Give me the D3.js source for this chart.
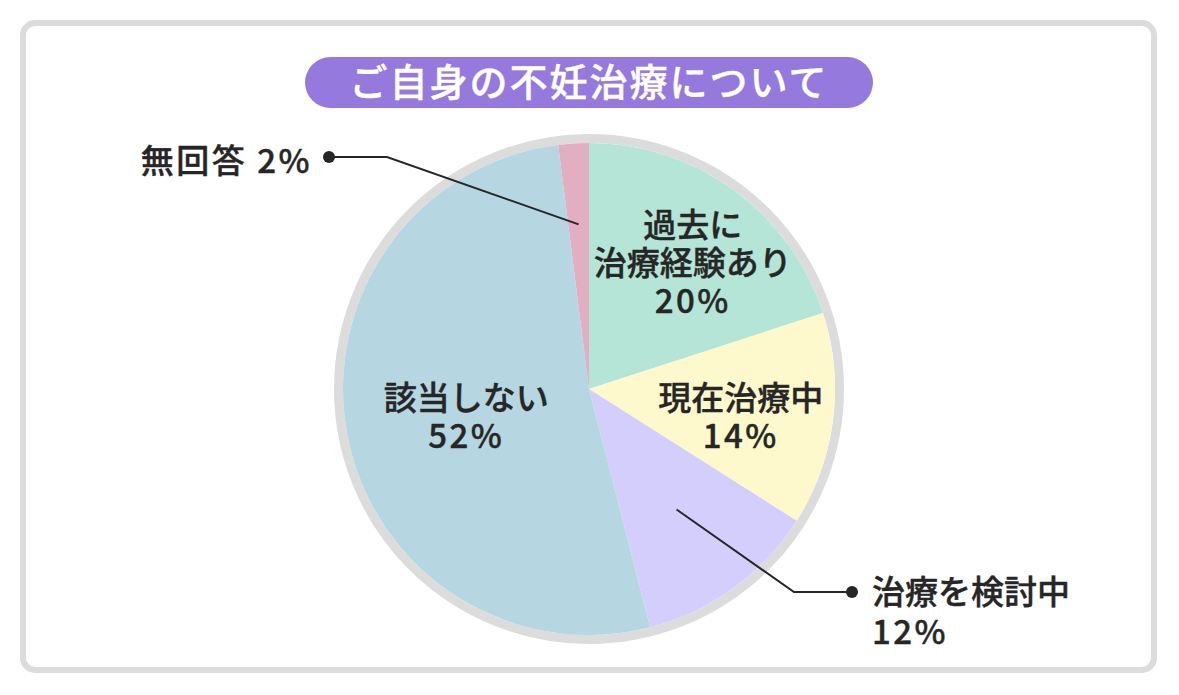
<!DOCTYPE html>
<html>
<head>
<meta charset="utf-8">
<script src="https://cdn.jsdelivr.net/npm/d3@7"></script>
<style>
  html, body { margin: 0; padding: 0; background: #fff; }
  svg { display: block; }
</style>
</head>
<body>
<script>
// survey result
const categories = ['過去に治療経験あり', '現在治療中', '治療を検討中', '該当しない', '無回答'];
const values = [20, 14, 12, 52, 2];
const labelLines = [
    ['過去に', '治療経験あり', '20%'],
    ['現在治療中', '14%'],
    ['治療を検討中', '12%'],
    ['該当しない', '52%'],
    ['無回答 2%']
];
const title = 'ご自身の不妊治療について';

const width = 1179;
const height = 695;
const cx = 589, cy = 389;
const radius = 246;
const ringWidth = 9;
const fontFamily = '"Noto Sans CJK JP", "Noto Sans", sans-serif';
const textColor = '#262626';

const color = d3.scaleOrdinal()
    .domain(categories)
    .range(['#b4e5d6', '#fef9cd', '#d3cefb', '#b6d7e1', '#e2aec1']);

// labels inside the slices: radius from centre + a little nudge
const insideLabels = {
    '過去に治療経験あり': { r: 163, dx: 8, dy: 6 },
    '現在治療中': { r: 155, dx: -2, dy: 9 },
    '該当しない': { r: 123, dx: -2, dy: 5 }
};
// call-out labels with a leader line
const callouts = {
    '無回答': { r: 165, dotX: 329, dotY: 157, elbow: 58, side: 'left' },
    '治療を検討中': { r: 149, dotX: 852, dotY: 592, elbow: -58, side: 'right' }
};

const svg = d3.select('body')
    .append('svg')
    .attr('width', width)
    .attr('height', height);

// frame
svg.append('rect')
    .attr('x', 23).attr('y', 23)
    .attr('width', 1131).attr('height', 647)
    .attr('rx', 12)
    .attr('fill', '#fff')
    .attr('stroke', '#dcdcdc')
    .attr('stroke-width', 6);

// title pill
svg.append('rect')
    .attr('x', 305).attr('y', 57)
    .attr('width', 568).attr('height', 51)
    .attr('rx', 25.5)
    .attr('fill', '#9579dc');
svg.append('text')
    .attr('x', cx).attr('y', 83)
    .attr('dy', '0.35em')
    .attr('text-anchor', 'middle')
    .style('font-family', fontFamily)
    .style('font-size', '38px')
    .style('font-weight', '500')
    .style('letter-spacing', '2px')
    .style('fill', '#fff')
    .style('stroke', '#fff')
    .style('stroke-width', '0.4px')
    .text(title);

const g = svg.append('g').attr('transform', `translate(${cx},${cy})`);

// grey ring
g.append('circle')
    .attr('r', radius + ringWidth / 2)
    .attr('fill', 'none')
    .attr('stroke', '#dcdcdc')
    .attr('stroke-width', ringWidth);

const pie = d3.pie().sort(null).value(d => d.value);
const arcs = pie(categories.map((c, i) => ({ name: c, value: values[i], lines: labelLines[i] })));
const arc = d3.arc().innerRadius(0).outerRadius(radius);

g.selectAll('.slice')
    .data(arcs)
    .enter()
    .append('path')
    .attr('class', 'slice')
    .attr('d', arc)
    .attr('fill', d => color(d.data.name));

function pointAt(d, r) {
    return d3.arc().innerRadius(r).outerRadius(r).centroid(d);
}

// one <text> per line, percent lines get a bit more spacing (wide digits in the original)
function writeLines(x, y, lines, lineHeight, anchor) {
    lines.forEach((t, i) => {
        g.append('text')
            .attr('x', x)
            .attr('y', y + (i - (lines.length - 1) / 2) * lineHeight)
            .attr('dy', '0.35em')
            .attr('text-anchor', anchor)
            .style('font-family', fontFamily)
            .style('font-size', '33px')
            .style('font-weight', '500')
            .style('letter-spacing', /%$/.test(t) ? '2.5px' : '0px')
            .style('fill', textColor)
            .style('stroke', textColor)
            .style('stroke-width', '0.4px')
            .text(t);
    });
}

// inside labels
arcs.filter(d => insideLabels[d.data.name]).forEach(d => {
    const o = insideLabels[d.data.name];
    const p = pointAt(d, o.r);
    writeLines(p[0] + o.dx, p[1] + o.dy, d.data.lines, 38, 'middle');
});

// call-outs
arcs.filter(d => callouts[d.data.name]).forEach(d => {
    const o = callouts[d.data.name];
    const p = pointAt(d, o.r);
    const dot = [o.dotX - cx, o.dotY - cy];
    const elbow = [dot[0] + o.elbow, dot[1]];
    g.append('path')
        .attr('d', d3.line()([p, elbow, dot]))
        .attr('fill', 'none')
        .attr('stroke', textColor)
        .attr('stroke-width', 2);
    g.append('circle')
        .attr('cx', dot[0]).attr('cy', dot[1])
        .attr('r', 6)
        .attr('fill', textColor);

    if (o.side === 'left') {
        writeLines(dot[0] - 17, dot[1] + 4, d.data.lines, 38, 'end');
    } else {
        writeLines(dot[0] + 20, dot[1] + 20, d.data.lines, 40, 'start');
    }
});
</script>
</body>
</html>
